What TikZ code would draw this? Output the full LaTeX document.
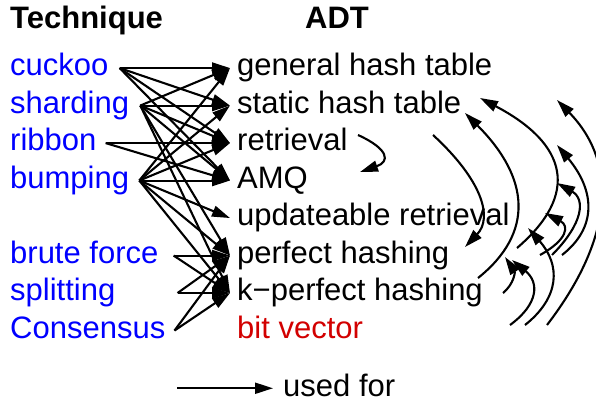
\documentclass[tikz,border=0pt]{standalone}
\usepackage{fontspec}
\setmainfont{Liberation Sans}
\usetikzlibrary{arrows.meta}
\definecolor{adtred}{RGB}{210,0,0}
\tikzset{
  usedfor/.style={line width=2.1pt,-{Triangle[length=18pt,width=11pt]}},
  bigfont/.style={font=\fontsize{31}{36}\selectfont},
  technique/.style={bigfont,anchor=base west,text=blue,inner xsep=9pt,text height=22pt,text depth=6.5pt},
  adt/.style={bigfont,anchor=base west,inner xsep=7pt,text height=22pt,text depth=6.5pt},
  header/.style={bigfont,anchor=base west,inner sep=0pt,font=\fontsize{31}{36}\selectfont\bfseries},
}
% arc between ADTs: start, two controls, tip
\newcommand{\adtarc}[4]{\draw[usedfor] #1 .. controls #2 and #3 .. #4;}

\begin{document}
\begin{tikzpicture}[x=1pt,y=-1pt]
    \useasboundingbox (0,0) rectangle (596,402);

    \node[header] (techhead) at (10,28.5) {Technique};
    \node[header] (adthead) at (305,28.5) {ADT};

    % techniques
    \node[technique] (cuckoo) at (1,75.8) {cuckoo};
    \node[technique] (sharding) at (1,113.3) {sharding};
    \node[technique] (ribbon) at (1,150.8) {ribbon};
    \node[technique] (bumping) at (1,188.3) {bumping};
    \node[technique] (bruteforce) at (1,263.3) {brute force};
    \node[technique] (splitting) at (1,300.8) {splitting};
    \node[technique] (consensus) at (1,338.3) {Consensus};

    % ADTs
    \node[adt] (gen) at (230,75.8) {general hash table};
    \node[adt] (static) at (230,113.3) {static hash table};
    \node[adt] (retrieval) at (230,150.8) {retrieval};
    \node[adt] (amq) at (230,188.3) {AMQ};
    \node[adt] (updret) at (230,225.8) {updateable retrieval};
    \node[adt] (perfect) at (230,263.3) {perfect hashing};
    \node[adt] (kperfect) at (230,300.8) {k−perfect hashing};
    \node[adt,text=adtred] (bitvec) at (230,338.3) {bit vector};

    \coordinate (cuckoo-out) at ([xshift=2pt]cuckoo.east);
    \coordinate (sharding-out) at ([xshift=2pt]sharding.east);
    \coordinate (ribbon-out) at (ribbon.east);
    \coordinate (bumping-out) at ([xshift=1pt]bumping.east);
    \coordinate (bruteforce-out) at ([xshift=6pt]bruteforce.east);
    \coordinate (splitting-out) at ([xshift=53pt]splitting.east);
    \coordinate (consensus-out) at (consensus.east);

    \foreach \s/\t in {cuckoo/gen, cuckoo/static, cuckoo/retrieval, cuckoo/amq,
                       sharding/gen, sharding/static, sharding/retrieval, sharding/amq,
                       sharding/perfect, sharding/kperfect,
                       ribbon/retrieval, ribbon/amq,
                       bumping/gen, bumping/static, bumping/retrieval, bumping/amq,
                       bumping/updret, bumping/perfect, bumping/kperfect,
                       bruteforce/perfect, bruteforce/kperfect,
                       splitting/perfect, splitting/kperfect,
                       consensus/perfect, consensus/kperfect} {
      \draw[usedfor] (\s-out) -- (\t.west);
    }

    % arcs on the right
    \adtarc{(358,135)}{(389.3,149.3)}{(390,161.7)}{(360,172)}
    \adtarc{(433,135)}{(482.3,180.3)}{(493,217.7)}{(465,247)}
    \adtarc{(478,278)}{(534.3,233)}{(530,178)}{(465,113)}
    \adtarc{(517,248)}{(580,194)}{(567.7,144)}{(480,98)}
    \adtarc{(503,293)}{(514.3,283.7)}{(515,271.7)}{(505,257)}
    \adtarc{(510,325)}{(538.7,304)}{(539.3,282.3)}{(512,260)}
    \adtarc{(525,325)}{(560,297.3)}{(560.7,265)}{(528,228)}
    \adtarc{(540,255)}{(567.7,239.7)}{(569.3,225.7)}{(545,213)}
    \adtarc{(552,255)}{(583.7,223)}{(585.3,199)}{(557,183)}
    \adtarc{(562,255)}{(597,227.7)}{(595.3,191)}{(557,145)}
    \adtarc{(547,325)}{(614.3,237.3)}{(617.7,162.3)}{(557,100)}

    % legend
    \node[adt,inner xsep=0pt] (legend) at (283,396) {used for};
    \coordinate (legend-in) at ([xshift=-106pt]legend.west);
    \draw[usedfor] (legend-in) -- ([xshift=-10pt]legend.west);
\end{tikzpicture}
\end{document}
